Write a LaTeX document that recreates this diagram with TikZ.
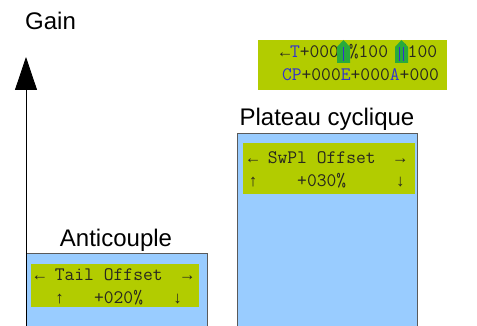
\documentclass[tikz,border=0pt]{standalone}
\usepackage{fontspec}
\setmainfont{Liberation Sans}
\newfontfamily\arrfont{Liberation Mono}
\newcommand\lcdar[1]{\makebox[10pt][c]{\arrfont\fontsize{16.67}{20}\selectfont #1}}
\usetikzlibrary{arrows.meta}
\definecolor{lcdgreen}{RGB}{178,204,0}
\definecolor{panelblue}{RGB}{153,204,255}
\definecolor{lcdblue}{RGB}{51,51,204}
\definecolor{arrowgreen}{RGB}{40,170,60}
\definecolor{bordergray}{RGB}{90,90,90}
\definecolor{lcdtext}{RGB}{40,40,30}
\begin{document}
\begin{tikzpicture}[x=1pt,y=-1pt,
  panel/.style={draw=bordergray, line width=0.8pt, fill=panelblue, anchor=north west, inner sep=0pt, outer sep=0pt},
  lcd/.style={fill=lcdgreen, anchor=north west, inner sep=0pt, outer sep=0pt},
  lcdline/.style={anchor=base west, inner sep=0pt, outer sep=0pt, text=lcdtext, font=\ttfamily\fontsize{19.05}{22}\selectfont},
  title/.style={anchor=base, inner sep=0pt, font=\fontsize{24}{28}\selectfont},
  barrow/.style={fill=arrowgreen},
  bar/.style={draw=lcdblue, line width=1.6pt},
  ]
\useasboundingbox (0,0) rectangle (477,326);
\clip (0,0) rectangle (477,326);
\fill[white] (0,0) rectangle (477,326);

% title
\node[title, anchor=base west] (gain) at (25,30) {Gain};

% top LCD
\node[lcd, minimum width=189pt, minimum height=50pt] (toplcd) at (258,40) {};
\node[lcdline] (topl1) at (280,58) {\lcdar{←}{\color{lcdblue}T}+000~\%100~\%100};
\node[lcdline] (topl2) at (282,81) {{\color{lcdblue}CP}+000{\color{lcdblue}E}+000{\color{lcdblue}A}+000};
\fill[barrow] (337,47) -- (343.5,40) -- (350,47) -- (350,63) -- (337,63) -- cycle;
\draw[bar] (343.5,47) -- (343.5,61);
\fill[barrow] (395,47) -- (401.5,40) -- (408,47) -- (408,63) -- (395,63) -- cycle;
\draw[bar] (399.5,47) -- (399.5,61);
\draw[bar] (403.5,47) -- (403.5,61);

% Plateau cyclique
\node[title] (plttitle) at (327,126) {Plateau cyclique};
\node[panel, minimum width=180pt, minimum height=200pt] (pltpanel) at (237,133) {};
\node[lcd, minimum width=172pt, minimum height=51pt] (pltlcd) at (243,143) {};
\node[lcdline] (pltl1) at (248,164) {\lcdar{←}~SwPl~Offset~~\lcdar{→}};
\node[lcdline] (pltl2) at (248,187) {\lcdar{↑}~~~~+030\%~~~~~\lcdar{↓}};

% Anticouple
\node[title] (antititle) at (116,247) {Anticouple};
\node[panel, minimum width=181pt, minimum height=90pt] (antipanel) at (26,253) {};
\node[lcd, minimum width=168pt, minimum height=43pt] (antilcd) at (31,264) {};
\node[lcdline] (antil1) at (35,280) {\lcdar{←}~Tail~Offset~~\lcdar{→}};
\node[lcdline] (antil2) at (35,303) {~~\lcdar{↑}~~~+020\%~~~\lcdar{↓}};

% axis
\coordinate (axisbot) at (26,330);
\coordinate (axistop) at (26,57);
\draw[line width=0.8pt, -{Triangle[width=22pt,length=33pt]}] (axisbot) -- (axistop);
\end{tikzpicture}
\end{document}
